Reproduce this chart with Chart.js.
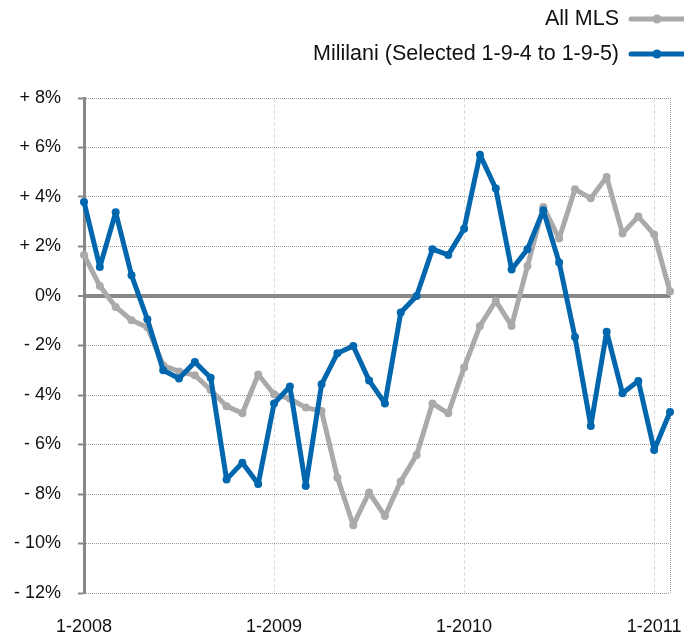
<!DOCTYPE html>
<html>
<head>
<meta charset="utf-8">
<script src="https://cdn.jsdelivr.net/npm/chart.js@4"></script>
<style>
  html, body { margin: 0; padding: 0; background: #fff; }
</style>
</head>
<body>
<canvas id="chart" width="684" height="637"></canvas>
<script>
const months = [
  "1-2008","2-2008","3-2008","4-2008","5-2008","6-2008","7-2008","8-2008","9-2008","10-2008","11-2008","12-2008",
  "1-2009","2-2009","3-2009","4-2009","5-2009","6-2009","7-2009","8-2009","9-2009","10-2009","11-2009","12-2009",
  "1-2010","2-2010","3-2010","4-2010","5-2010","6-2010","7-2010","8-2010","9-2010","10-2010","11-2010","12-2010",
  "1-2011","2-2011"
];
const seriesNames = ["All MLS", "Mililani (Selected 1-9-4 to 1-9-5)"];
const allMls = [1.66, 0.40, -0.44, -0.98, -1.26, -2.8, -3.05, -3.2, -3.8, -4.45, -4.74, -3.17,
  -3.97, -4.15, -4.51, -4.65, -7.34, -9.26, -7.94, -8.89, -7.49, -6.42, -4.34, -4.74,
  -2.89, -1.21, -0.2, -1.21, 1.21, 3.6, 2.32, 4.31, 3.95, 4.81, 2.53, 3.21, 2.48, 0.18];
const mililani = [3.8, 1.17, 3.38, 0.84, -0.94, -3.0, -3.33, -2.67, -3.3, -7.41, -6.74, -7.6,
  -4.34, -3.66, -7.68, -3.57, -2.31, -2.02, -3.41, -4.34, -0.67, 0.0, 1.89, 1.66,
  2.72, 5.71, 4.34, 1.07, 1.89, 3.46, 1.35, -1.66, -5.25, -1.44, -3.93, -3.43, -6.22, -4.69];
const yTicks = [8, 6, 4, 2, 0, -2, -4, -6, -8, -10, -12];

const grayColor = "#aaaaaa";
const blueColor = "#0066ad";
const fontFamily = '"Liberation Sans", Arial, Helvetica, sans-serif';

function pctLabel(v) {
  if (v > 0) return "+ " + v + "%";
  if (v < 0) return "- " + Math.abs(v) + "%";
  return "0%";
}

// legend on the right, text first, then the line sample
const rightLegend = {
  id: "rightLegend",
  afterDraw(chart) {
    const c = chart.ctx;
    const rows = [
      { label: seriesNames[0], color: grayColor, y: 19 },
      { label: seriesNames[1], color: blueColor, y: 54 }
    ];
    c.save();
    c.font = "21.5px " + fontFamily;
    c.textAlign = "right";
    c.textBaseline = "middle";
    rows.forEach(r => {
      c.fillStyle = "#111";
      c.fillText(r.label, 619, r.y);
      c.strokeStyle = r.color;
      c.lineWidth = 5;
      c.lineCap = "round";
      c.beginPath();
      c.moveTo(631, r.y);
      c.lineTo(690, r.y);
      c.stroke();
      c.fillStyle = r.color;
      c.beginPath();
      c.arc(657, r.y, 4.5, 0, Math.PI * 2);
      c.fill();
    });
    c.restore();
  }
};

const lastIdx = months.length - 1;

new Chart(document.getElementById("chart"), {
  type: "line",
  data: {
    labels: months,
    datasets: [
      {
        label: seriesNames[0],
        data: allMls,
        borderColor: grayColor,
        backgroundColor: grayColor,
        borderWidth: 5,
        borderJoinStyle: "round",
        borderCapStyle: "round",
        pointRadius: 4,
        pointBorderWidth: 0,
        tension: 0,
        clip: false,
        order: 1
      },
      {
        label: seriesNames[1],
        data: mililani,
        borderColor: blueColor,
        backgroundColor: blueColor,
        borderWidth: 5,
        borderJoinStyle: "round",
        borderCapStyle: "round",
        pointRadius: 4,
        pointBorderWidth: 0,
        tension: 0,
        clip: false,
        order: 0
      }
    ]
  },
  options: {
    responsive: false,
    animation: false,
    layout: { autoPadding: false, padding: { top: 98, right: 14, bottom: 0, left: 0 } },
    plugins: {
      legend: { display: false },
      tooltip: { enabled: false }
    },
    scales: {
      x: {
        type: "category",
        offset: false,
        afterFit: scale => {
          scale.height = 44;
          scale.paddingLeft = 0;
          scale.paddingRight = 0;
        },
        grid: {
          drawTicks: false,
          lineWidth: 1,
          color: ctx => {
            if (ctx.index === lastIdx) return "#999";
            if (ctx.index > 0 && ctx.index % 12 === 0) return "#dddddd";
            return "rgba(0,0,0,0)";
          }
        },
        border: {
          display: false,
          dash: ctx => ctx.index === lastIdx ? [1, 1] : [4, 2]
        },
        ticks: {
          autoSkip: false,
          maxRotation: 0,
          minRotation: 0,
          padding: 23,
          color: "#111",
          font: { family: fontFamily, size: 18 },
          callback: (v, i) => (i % 12 === 0 ? months[i] : "")
        }
      },
      y: {
        min: -12,
        max: 8,
        afterBuildTicks: scale => { scale.ticks = yTicks.map(v => ({ value: v })); },
        afterFit: scale => { scale.width = 84; },
        grid: {
          tickLength: 6,
          tickColor: "#888",
          tickWidth: 2,
          color: ctx => (ctx.tick && ctx.tick.value === 0 ? "#888" : "#999"),
          lineWidth: ctx => (ctx.tick && ctx.tick.value === 0 ? 4 : 1)
        },
        border: {
          display: true,
          color: "#888",
          width: 3,
          dash: ctx => (ctx.tick && ctx.tick.value === 0 ? [] : [1, 1])
        },
        ticks: {
          padding: 17,
          color: "#111",
          font: { family: fontFamily, size: 18 },
          callback: v => pctLabel(v)
        }
      }
    }
  },
  plugins: [rightLegend]
});
</script>
</body>
</html>
